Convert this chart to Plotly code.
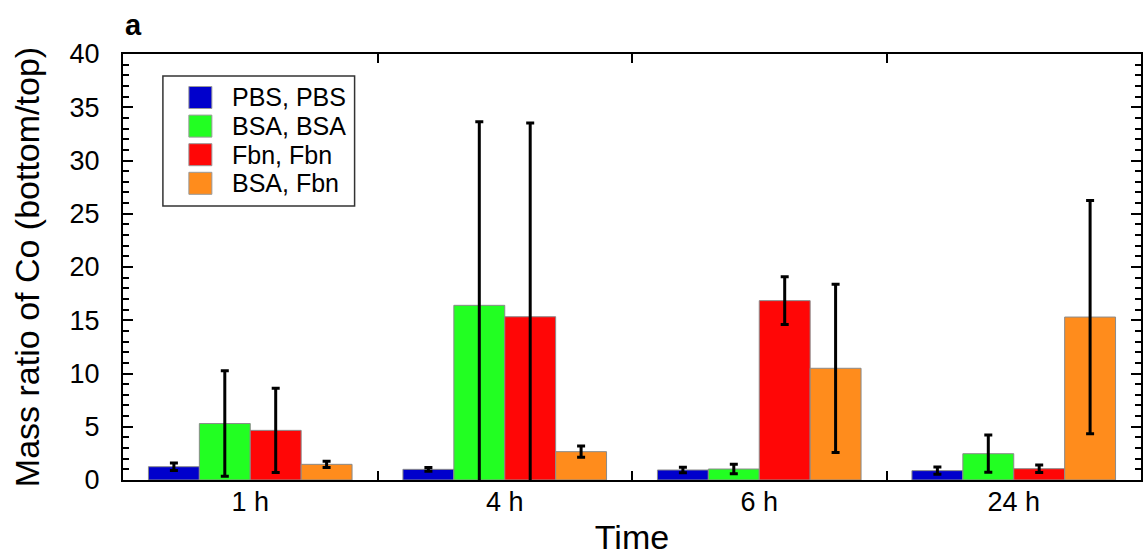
import plotly.graph_objects as go

categories = ["1 h", "4 h", "6 h", "24 h"]
series_names = ["PBS, PBS", "BSA, BSA", "Fbn, Fbn", "BSA, Fbn"]
pbs_pbs = [1.25, 1.0, 0.94, 0.88]
pbs_pbs_err = [0.35, 0.18, 0.25, 0.35]
bsa_bsa = [5.3, 16.4, 1.03, 2.47]
bsa_bsa_err = [4.95, 17.25, 0.45, 1.75]
fbn_fbn = [4.66, 15.33, 16.84, 1.06]
fbn_fbn_err = [3.95, 18.2, 2.25, 0.35]
bsa_fbn = [1.47, 2.66, 10.49, 15.3]
bsa_fbn_err = [0.3, 0.53, 7.9, 10.95]
colors = ["#0000CC", "#22FF22", "#FF0606", "#FF8C1C"]

values = [pbs_pbs, bsa_bsa, fbn_fbn, bsa_fbn]
errors = [pbs_pbs_err, bsa_bsa_err, fbn_fbn_err, bsa_fbn_err]

FONT = "Liberation Sans, Arial, sans-serif"

fig = go.Figure()
for name, vals, errs, col in zip(series_names, values, errors, colors):
    fig.add_trace(go.Bar(
        x=categories, y=vals, name=name,
        marker=dict(color=col, line=dict(color="#8a8a8a", width=1)),
        error_y=dict(type="data", array=errs, visible=True,
                     color="black", thickness=3, width=4),
        cliponaxis=True, showlegend=False,
    ))

# Legend box drawn in paper coordinates (layout decoration)
shapes = [dict(type="rect", xref="paper", yref="paper",
               x0=0.0392, x1=0.2275, y0=0.6432, y1=0.9484,
               line=dict(color="#333333", width=1.5), fillcolor="white", layer="above")]
annotations = []
leg_top_px = 97.5
leg_step_px = 28.6
plot_top, plot_h = 54, 426
for i, (name, col) in enumerate(zip(series_names, colors)):
    cy_px = leg_top_px + i * leg_step_px
    cy = (plot_top + plot_h - cy_px) / plot_h
    half = 11 / plot_h
    shapes.append(dict(type="rect", xref="paper", yref="paper",
                       x0=0.0647, x1=0.0873, y0=cy - half, y1=cy + half,
                       line=dict(color="#999999", width=1), fillcolor=col, layer="above"))
    annotations.append(dict(text=name, xref="paper", yref="paper",
                            x=0.1049, y=cy, xanchor="left", yanchor="middle",
                            showarrow=False,
                            font=dict(size=25, family=FONT, color="black")))

annotations.append(dict(
    text="<b>a</b>", xref="paper", yref="paper",
    x=0.0, y=1.067, xanchor="left", yanchor="middle",
    showarrow=False, font=dict(size=29, family=FONT, color="black"),
))

fig.update_layout(
    width=1144, height=556,
    margin=dict(l=123, r=1, t=54, b=76),
    paper_bgcolor="white", plot_bgcolor="white",
    barmode="group", bargap=0.2, bargroupgap=0,
    font=dict(family=FONT, color="black"),
    showlegend=False,
    shapes=shapes,
    annotations=annotations,
)

fig.update_xaxes(
    showline=True, linecolor="black", linewidth=2, mirror="ticks",
    ticks="inside", tickson="boundaries", ticklen=9, tickwidth=2, tickcolor="black",
    tickfont=dict(size=27, family=FONT, color="black"),
    ticklabelstandoff=-3,
    title=dict(text="Time", font=dict(size=34, family=FONT, color="black"), standoff=9),
    showgrid=False, zeroline=False,
)
fig.update_yaxes(
    range=[0, 40], dtick=5, tick0=0,
    showline=True, linecolor="black", linewidth=2, mirror="ticks",
    ticks="inside", ticklen=10, tickwidth=2, tickcolor="black",
    minor=dict(ticks="inside", dtick=1, ticklen=6, tickwidth=1.5, tickcolor="black", showgrid=False),
    tickfont=dict(size=27, family=FONT, color="black"),
    ticklabelstandoff=16,
    title=dict(text="Mass ratio of Co (bottom/top)", font=dict(size=34, family=FONT, color="black"), standoff=20),
    showgrid=False, zeroline=False,
)

fig.write_html("out.html")
